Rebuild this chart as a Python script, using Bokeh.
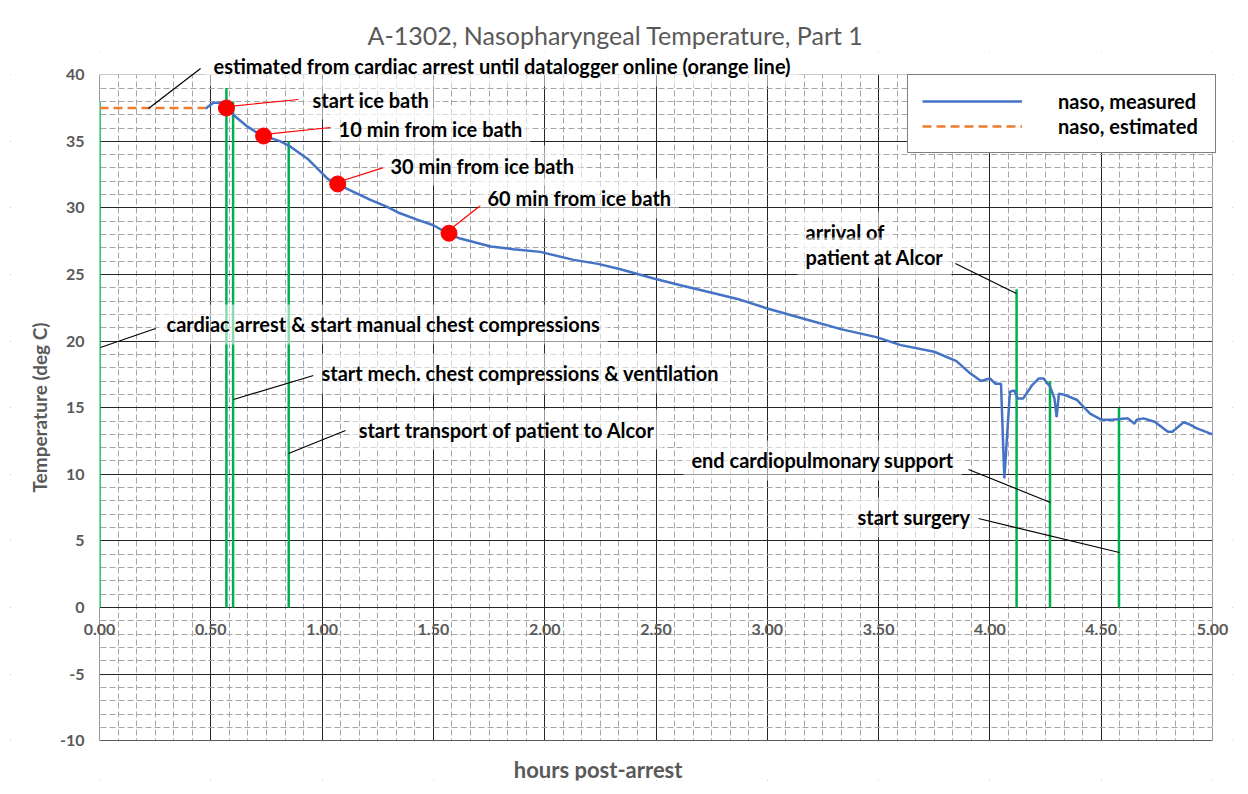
from bokeh.plotting import figure
from bokeh.models import (Range1d, SingleIntervalTicker, PrintfTickFormatter, Label,
                          Arrow, Legend, LegendItem, BoxAnnotation)
from bokeh.embed import file_html
from bokeh.resources import INLINE

# ---------------- data ----------------
hours_measured = [0.476, 0.495, 0.512, 0.544, 0.570, 0.611, 0.665, 0.723, 0.813, 0.858,
                  0.934, 1.024, 1.065, 1.141, 1.217, 1.290, 1.350, 1.430, 1.500, 1.563,
                  1.620, 1.757, 1.860, 1.980, 2.130, 2.240, 2.340, 2.490, 2.610, 2.760,
                  2.880, 3.000, 3.180, 3.330, 3.490, 3.600, 3.750, 3.850, 3.910, 3.960,
                  4.000, 4.025, 4.050, 4.065, 4.090, 4.110, 4.125, 4.150, 4.190, 4.220,
                  4.240, 4.270, 4.290, 4.300, 4.310, 4.330, 4.390, 4.450, 4.500, 4.550,
                  4.620, 4.650, 4.660, 4.690, 4.740, 4.800, 4.820, 4.870, 4.890, 4.930,
                  5.000]
temp_measured = [37.45, 37.7, 37.9, 37.9, 37.5, 36.85, 36.1, 35.5, 35.0, 34.6,
                 33.7, 32.2, 31.8, 31.2, 30.6, 30.1, 29.6, 29.1, 28.7, 28.1,
                 27.7, 27.1, 26.9, 26.7, 26.1, 25.8, 25.4, 24.7, 24.2, 23.6,
                 23.1, 22.45, 21.6, 20.9, 20.3, 19.7, 19.2, 18.5, 17.6, 17.0,
                 17.2, 16.8, 16.8, 9.7, 16.2, 16.3, 15.7, 15.7, 16.7, 17.2,
                 17.2, 16.6, 15.7, 14.3, 16.05, 16.0, 15.6, 14.55, 14.1, 14.1,
                 14.2, 13.8, 14.1, 14.2, 13.95, 13.2, 13.2, 13.9, 13.8, 13.45,
                 13.0]
hours_estimated = [0.0, 0.476]
temp_estimated = [37.5, 37.5]

icebath_hours = [0.57, 0.737, 1.07, 1.57]
icebath_temps = [37.5, 35.4, 31.8, 28.1]

event_hours = [0.0, 0.57, 0.60, 0.85, 4.12, 4.27, 4.58]
event_tops = [38.0, 39.0, 38.0, 35.0, 23.9, 17.0, 15.0]
event_bottoms = [0, 0, 0, 0, 0, 0, 0]

x_axis_bounds = (0, 5)
y_axis_bounds = (-10, 40)

series_labels = ["naso, measured", "naso, estimated"]
title_text = "A-1302, Nasopharyngeal Temperature, Part 1"
x_title = "hours post-arrest"
y_title = "Temperature (deg C)"

ann_texts = ["estimated from cardiac arrest until datalogger online (orange line)",
             "start ice bath", "10 min from ice bath", "30 min from ice bath",
             "60 min from ice bath",
             "cardiac arrest & start manual chest compressions",
             "start mech. chest compressions & ventilation",
             "start transport of patient to Alcor",
             "arrival of", "patient at Alcor",
             "end cardiopulmonary support", "start surgery"]

# ---------------- layout (annotation placement, data units) ----------------
ann_x = [0.512, 0.957, 1.074, 1.307, 1.743, 0.301, 0.997, 1.164, 3.172, 3.172, 2.659, 3.405]
ann_y = [40.62, 38.14, 35.96, 33.18, 30.71, 21.25, 17.57, 13.36, 28.23, 26.28, 11.04, 6.76]
lead_x0 = [0.454, 0.894, 1.038, 1.276, 1.712, 0.252, 0.961, 1.105, 3.845, 3.904, 3.949]
lead_y0 = [40.47, 38.14, 36.04, 33.03, 30.18, 20.95, 17.42, 13.29, 25.83, 10.36, 6.68]
lead_x1 = [0.220, 0.575, 0.732, 1.065, 1.563, 0.004, 0.602, 0.849, 4.119, 4.272, 4.582]
lead_y1 = [37.46, 37.61, 35.51, 31.91, 28.23, 19.52, 15.62, 11.56, 23.57, 7.88, 4.13]
lead_col = ["#000000", "#FF0000", "#FF0000", "#FF0000", "#FF0000",
            "#000000", "#000000", "#000000", "#000000", "#000000", "#000000"]
x_title_pos = (2.24, -12.2)

FONT = "Lato"
GRAY = "#595959"

p = figure(width=1240, height=786, x_range=Range1d(-0.40, 5.09), y_range=Range1d(-12.99, 41.67),
           output_backend="svg", toolbar_location=None,
           min_border_left=10, min_border_right=8, min_border_top=52, min_border_bottom=6,
           title=title_text)
p.outline_line_color = None
p.background_fill_color = "white"
p.border_fill_color = "white"

p.title.text_font = FONT
p.title.text_font_size = "25px"
p.title.text_font_style = "normal"
p.title.text_color = GRAY
p.title.align = "left"
p.title.offset = 357
p.title.standoff = 6

xt = SingleIntervalTicker(interval=0.5, num_minor_ticks=6)
yt = SingleIntervalTicker(interval=5, num_minor_ticks=5)
p.xaxis.ticker = xt
p.yaxis.ticker = yt
p.xaxis.formatter = PrintfTickFormatter(format="%.2f")
p.yaxis.formatter = PrintfTickFormatter(format="%d")
p.xaxis.fixed_location = 0
p.yaxis.fixed_location = 0
p.xaxis.bounds = x_axis_bounds
p.yaxis.bounds = y_axis_bounds
for ax in (p.xaxis, p.yaxis):
    ax.axis_line_color = None
    ax.major_tick_line_color = None
    ax.minor_tick_line_color = None
    ax.major_tick_out = 0
    ax.major_tick_in = 0
    ax.minor_tick_out = 0
    ax.minor_tick_in = 0
    ax.major_label_text_font = FONT
    ax.major_label_text_font_style = "bold"
    ax.major_label_text_font_size = "16px"
    ax.major_label_text_color = GRAY
p.xaxis.major_label_standoff = 17
p.yaxis.major_label_standoff = 15
p.yaxis.axis_label = y_title
p.yaxis.axis_label_text_font = FONT
p.yaxis.axis_label_text_font_style = "bold"
p.yaxis.axis_label_text_font_size = "19px"
p.yaxis.axis_label_text_color = GRAY
p.yaxis.axis_label_standoff = 6

for g in (p.xgrid, p.ygrid):
    g.grid_line_color = "#262626"
    g.grid_line_width = 1
    g.minor_grid_line_color = "#a6a6a6"
    g.minor_grid_line_dash = "6 3"
    g.minor_grid_line_width = 1

# white masks so the grid only covers the chart's plot area
for kw in (dict(bottom=y_axis_bounds[1]), dict(top=y_axis_bounds[0]),
           dict(left=x_axis_bounds[1])):
    p.add_layout(BoxAnnotation(fill_color="white", fill_alpha=1, line_color=None,
                               level="underlay", **kw))

# event markers (green)
p.segment(x0=event_hours, y0=event_bottoms, x1=event_hours, y1=event_tops,
          line_color="#00B050", line_width=2.5)

r_meas = p.line(hours_measured, temp_measured, line_color="#4472C4", line_width=2.5)
r_est = p.line(hours_estimated, temp_estimated, line_color="#ED7D31", line_width=2.5,
               line_dash="9 5")

p.scatter(icebath_hours, icebath_temps, size=16, fill_color="#FF0000", line_color="#FF0000")

# left mask drawn over glyphs too, so the series clip at the plot-area edge
p.add_layout(BoxAnnotation(right=x_axis_bounds[0], fill_color="white", fill_alpha=1,
                           line_color=None, level="glyph"))

for i in range(len(lead_x0)):
    p.add_layout(Arrow(end=None, x_start=lead_x0[i], y_start=lead_y0[i],
                       x_end=lead_x1[i], y_end=lead_y1[i],
                       line_color=lead_col[i], line_width=1.2))

for i, t in enumerate(ann_texts):
    p.add_layout(Label(x=ann_x[i], y=ann_y[i], text=t, text_font=FONT,
                       text_font_style="bold", text_font_size="20px",
                       text_color="#000000", text_align="left", text_baseline="middle",
                       background_fill_color="white", background_fill_alpha=0.55,
                       padding=8, x_offset=-8))

p.add_layout(Label(x=x_title_pos[0], y=x_title_pos[1], text=x_title, text_font=FONT,
                   text_font_style="bold", text_font_size="22px", text_color=GRAY,
                   text_align="center", text_baseline="middle"))

legend = Legend(items=[LegendItem(label=series_labels[0], renderers=[r_meas]),
                       LegendItem(label=series_labels[1], renderers=[r_est])],
                location=(897, 627), orientation="vertical")
legend.label_text_font = FONT
legend.label_text_font_style = "bold"
legend.label_text_font_size = "20px"
legend.label_text_color = "#000000"
legend.border_line_color = "#000000"
legend.border_line_width = 1
legend.background_fill_color = "white"
legend.background_fill_alpha = 1
legend.padding = 14
legend.spacing = 1
legend.glyph_width = 100
legend.glyph_height = 24
legend.label_height = 24
legend.label_width = 143
legend.label_standoff = 36
legend.margin = 0
p.add_layout(legend)

open("out.html", "w").write(file_html(p, INLINE))
